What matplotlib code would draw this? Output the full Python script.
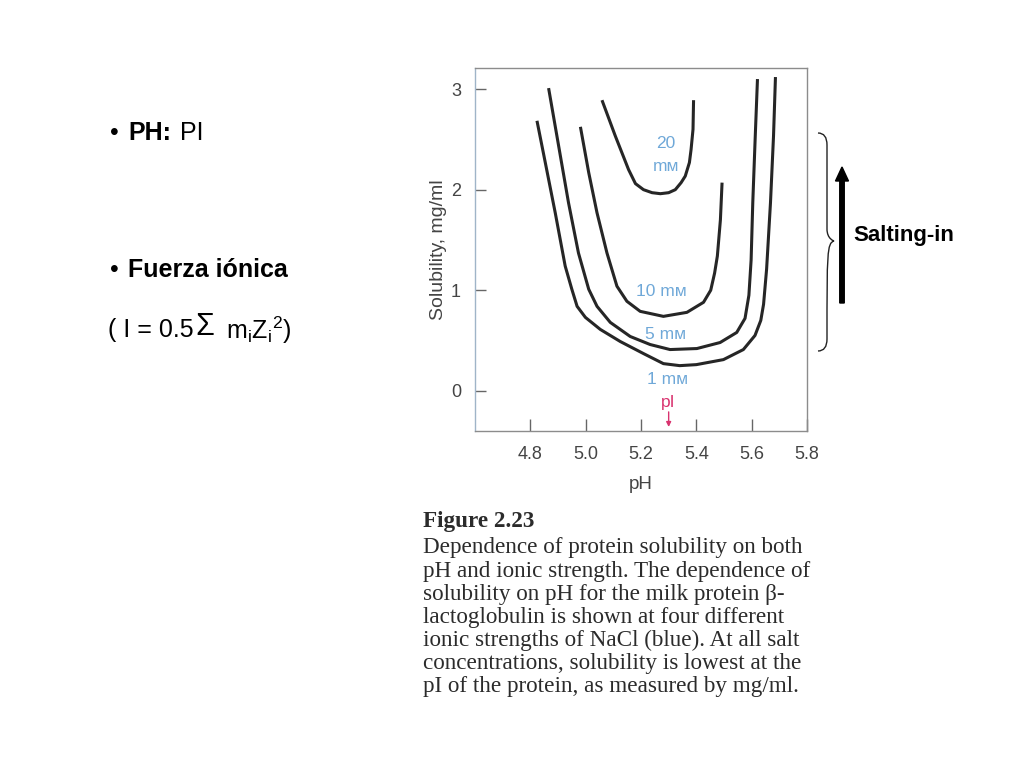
import matplotlib
matplotlib.use("Agg")
import matplotlib.pyplot as plt
from matplotlib.path import Path
from matplotlib.patches import PathPatch, FancyArrow

# ---------------- data ----------------
ph_1mM = [4.824, 4.854, 4.890, 4.926, 4.950, 4.969, 4.999, 5.053, 5.125, 5.209,
          5.281, 5.34, 5.40, 5.498, 5.57, 5.612, 5.633, 5.643, 5.654, 5.668, 5.679, 5.686]
sol_1mM = [2.685, 2.27, 1.77, 1.24, 1.01, 0.84, 0.73, 0.61, 0.49, 0.37,
           0.27, 0.25, 0.26, 0.31, 0.41, 0.55, 0.70, 0.86, 1.21, 1.87, 2.535, 3.12]

ph_5mM = [4.866, 4.902, 4.938, 4.974, 5.011, 5.041, 5.089, 5.161, 5.233, 5.305,
          5.402, 5.486, 5.546, 5.576, 5.590, 5.598, 5.604, 5.613, 5.621]
sol_5mM = [3.01, 2.44, 1.87, 1.37, 1.01, 0.84, 0.68, 0.54, 0.46, 0.41,
           0.42, 0.48, 0.58, 0.72, 0.95, 1.30, 1.87, 2.535, 3.10]

ph_10mM = [4.981, 5.011, 5.041, 5.077, 5.113, 5.149, 5.197, 5.281, 5.366, 5.426,
           5.452, 5.466, 5.476, 5.487, 5.493]
sol_10mM = [2.625, 2.17, 1.77, 1.37, 1.04, 0.89, 0.79, 0.74, 0.78, 0.88,
            1.00, 1.17, 1.34, 1.70, 2.07]

ph_20mM = [5.059, 5.107, 5.155, 5.18, 5.209, 5.24, 5.27, 5.30, 5.324, 5.345,
           5.36, 5.375, 5.381, 5.388, 5.390]
sol_20mM = [2.89, 2.535, 2.20, 2.06, 2.0, 1.97, 1.96, 1.97, 2.0, 2.07,
            2.135, 2.27, 2.40, 2.60, 2.89]

x_ticks = [4.8, 5.0, 5.2, 5.4, 5.6, 5.8]
x_tick_labels = ["4.8", "5.0", "5.2", "5.4", "5.6", "5.8"]
y_ticks = [0, 1, 2, 3]
y_tick_labels = ["0", "1", "2", "3"]

curve_labels = ["20\nm\u1d0d", "10 m\u1d0d", "5 m\u1d0d", "1 m\u1d0d"]
curve_label_x = [5.29, 5.275, 5.29, 5.295]
curve_label_y = [2.345, 0.99, 0.56, 0.11]
pI_value = 5.30

caption_title = "Figure 2.23"
caption_lines = [
    "Dependence of protein solubility on both",
    "pH and ionic strength. The dependence of",
    "solubility on pH for the milk protein \u03b2-",
    "lactoglobulin is shown at four different",
    "ionic strengths of NaCl (blue). At all salt",
    "concentrations, solubility is lowest at the",
    "pI of the protein, as measured by mg/ml.",
]

# ---------------- figure ----------------
W, H = 1024, 768
fig = plt.figure(figsize=(W / 100, H / 100), dpi=100)
fig.patch.set_facecolor("white")


def fx(px):
    return px / W


def fy(py):
    return 1 - py / H


sans = ["Liberation Sans", "DejaVu Sans"]
serif = ["Liberation Serif", "DejaVu Serif"]

ax = fig.add_axes([fx(475), fy(431), (807 - 475) / W, (431 - 68) / H])
ax.set_xlim(4.6, 5.8)
ax.set_ylim(-0.40, 3.21)

line_color = "#262626"
for xs, ys in [(ph_1mM, sol_1mM), (ph_5mM, sol_5mM), (ph_10mM, sol_10mM), (ph_20mM, sol_20mM)]:
    ax.plot(xs, ys, color=line_color, lw=2.2, solid_joinstyle="round",
            solid_capstyle="butt")

blue = "#6fa8d8"
for lab, lx, ly in zip(curve_labels, curve_label_x, curve_label_y):
    ax.text(lx, ly, lab, color=blue, fontsize=12.5, family=sans,
            ha="center", va="center", linespacing=1.6)

pink = "#d9336f"
ax.text(pI_value, -0.12, "pI", color=pink, fontsize=12.5, family=sans,
        ha="center", va="center")
ax.annotate("", xy=(pI_value, -0.36), xytext=(pI_value, -0.21),
            arrowprops=dict(arrowstyle="-|>", color=pink, lw=1.0,
                            mutation_scale=7, shrinkA=0, shrinkB=0))

ax.set_xticks(x_ticks)
ax.set_xticklabels(x_tick_labels)
ax.set_yticks(y_ticks)
ax.set_yticklabels(y_tick_labels)
ax.tick_params(axis="x", direction="in", length=9, width=1.0, color="#666666",
               labelsize=13, labelcolor="#444444", pad=11)
ax.tick_params(axis="y", direction="in", length=8, width=1.0, color="#666666",
               labelsize=13, labelcolor="#444444", pad=10)
for t in ax.get_xticklabels() + ax.get_yticklabels():
    t.set_family(sans)
for s in ax.spines.values():
    s.set_color("#8c8c8c")
    s.set_linewidth(1.0)
ax.spines["left"].set_color("#9fb4c8")

ax.set_xlabel("pH", fontsize=13.5, family=sans, color="#444444", labelpad=9)
ax.set_ylabel("Solubility, mg/ml", fontsize=14, family=sans, color="#444444",
              labelpad=3)

# ---------------- caption ----------------
cap_x = fx(423)
fig.text(cap_x, fy(521), caption_title, fontsize=16.7, family=serif,
         weight="bold", color="#2b2b2b", va="center", ha="left")
for i, line in enumerate(caption_lines):
    fig.text(cap_x, fy(548 + i * 23.1), line, fontsize=16.7, family=serif,
             color="#2b2b2b", va="center", ha="left")

# ---------------- left bullet text ----------------
fs_left = 18
fig.text(fx(110), fy(133), "\u2022", fontsize=fs_left, family=sans, va="center", ha="left")
fig.text(fx(128), fy(133), "PH:", fontsize=fs_left, family=sans, weight="bold",
         va="center", ha="left")
fig.text(fx(180), fy(133), "PI", fontsize=fs_left, family=sans, va="center", ha="left")

fig.text(fx(110), fy(270), "\u2022", fontsize=fs_left, family=sans, va="center", ha="left")
fig.text(fx(128), fy(270), "Fuerza i\u00f3nica", fontsize=fs_left, family=sans,
         weight="bold", va="center", ha="left")

fig.text(fx(108), fy(330), "( I = 0.5", fontsize=fs_left, family=sans,
         va="center", ha="left")
fig.text(fx(195), fy(327), "\u03a3", fontsize=22, family=sans,
         va="center", ha="left")
fig.text(fx(226), fy(330),
         r"m$_\mathregular{i}$Z$_\mathregular{i}$$^\mathregular{2}$)",
         fontsize=fs_left, family=sans, va="center", ha="left")

# ---------------- brace, arrow and "Salting-in" ----------------
bx0, bx1, btip = 818, 827, 834
y_top, y_mid, y_bot = 133, 241, 351
verts = [
    (bx0, y_top), (bx1, y_top), (bx1, y_top + 12),
    (bx1, y_mid - 12),
    (bx1, y_mid - 2), (btip, y_mid), (btip, y_mid),
    (bx1, y_mid + 2), (bx1, y_mid + 12),
    (bx1, y_bot - 12),
    (bx1, y_bot), (bx0, y_bot),
]
codes = [Path.MOVETO, Path.CURVE3, Path.CURVE3,
         Path.LINETO,
         Path.CURVE4, Path.CURVE4, Path.CURVE4,
         Path.CURVE4, Path.CURVE4,
         Path.LINETO,
         Path.CURVE3, Path.CURVE3]
verts_fig = [(fx(x), fy(y)) for x, y in verts]
fig.patches.append(PathPatch(Path(verts_fig, codes), fill=False, lw=1.0,
                             edgecolor="#222222", transform=fig.transFigure))

fig.patches.append(FancyArrow(fx(842), fy(303), 0, fy(167) - fy(303),
                              width=4.5 / W, head_width=13 / W,
                              head_length=14 / H, length_includes_head=True,
                              color="black", transform=fig.transFigure))

fig.text(fx(853), fy(236), "Salting-in", fontsize=16, family=sans, weight="bold",
         va="center", ha="left")

fig.savefig("out.png", dpi=100, facecolor="white")
